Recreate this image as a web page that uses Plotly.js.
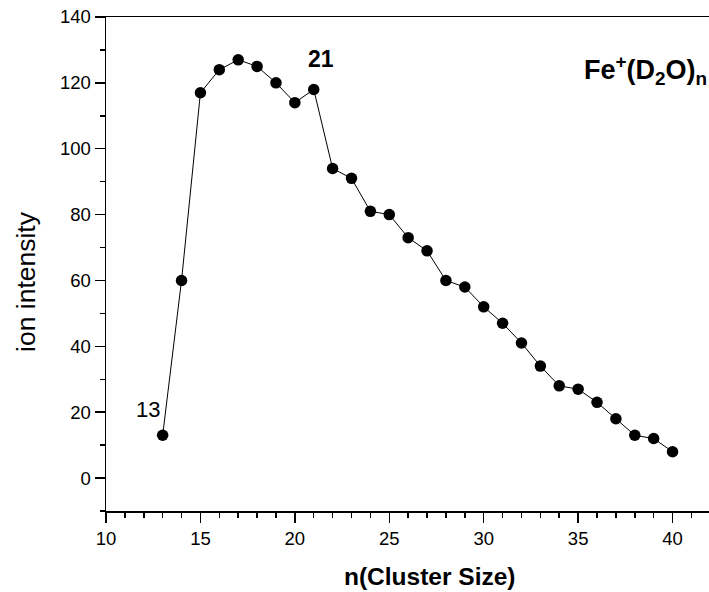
<!DOCTYPE html>
<html>
<head>
<meta charset="utf-8">
<script src="https://cdn.plot.ly/plotly-3.0.1.min.js"></script>
<style>html,body{margin:0;padding:0;background:#fff;}#chart{width:709px;height:592px;}</style>
</head>
<body>
<div id="chart"></div>
<script>
const clusterSize = [13,14,15,16,17,18,19,20,21,22,23,24,25,26,27,28,29,30,31,32,33,34,35,36,37,38,39,40];
const ionIntensity = [13,60,117,124,127,125,120,114,118,94,91,81,80,73,69,60,58,52,47,41,34,28,27,23,18,13,12,8];
const xTitle = "n(Cluster Size)";
const yTitle = "ion intensity";
const speciesLabel = "Fe<sup>+</sup>(D<sub>2</sub>O)<sub>n</sub>";
const peakLabel = "21";
const startLabel = "13";

const font = "Liberation Sans, Arial, sans-serif";

const trace = {
  x: clusterSize, y: ionIntensity, type: "scatter", mode: "lines+markers",
  line: {color: "#000", width: 1},
  marker: {color: "#000", size: 11.5, symbol: "circle"},
  showlegend: false, hoverinfo: "none", cliponaxis: false
};

const layout = {
  width: 709, height: 592,
  margin: {l: 106, r: 0, t: 17, b: 81, pad: 0},
  paper_bgcolor: "#fff", plot_bgcolor: "#fff",
  font: {family: font, color: "#000"},
  xaxis: {
    range: [10, 41.93], tickmode: "linear", tick0: 10, dtick: 5,
    ticks: "outside", ticklen: 10, tickwidth: 1.5, tickcolor: "#000",
    minor: {dtick: 1, ticks: "outside", ticklen: 5, tickwidth: 1.5, tickcolor: "#000", showgrid: false},
    showline: true, linewidth: 1.5, linecolor: "#000", mirror: true,
    showgrid: false, zeroline: false,
    tickfont: {family: font, size: 18.5, color: "#000"}
  },
  yaxis: {
    range: [-10, 140], tickmode: "linear", tick0: 0, dtick: 20,
    ticks: "outside", ticklen: 10, tickwidth: 1.5, tickcolor: "#000",
    minor: {dtick: 10, ticks: "outside", ticklen: 5, tickwidth: 1.5, tickcolor: "#000", showgrid: false},
    showline: true, linewidth: 1.5, linecolor: "#000", mirror: false,
    showgrid: false, zeroline: false,
    tickfont: {family: font, size: 18.5, color: "#000"}
  },
  annotations: [
    {text: peakLabel, x: 21.38, y: 127.3, xref: "x", yref: "y", showarrow: false,
     font: {family: font, size: 23, color: "#000", weight: "bold"}, xanchor: "center", yanchor: "middle"},
    {text: startLabel, x: 12.22, y: 20.7, xref: "x", yref: "y", showarrow: false,
     font: {family: font, size: 22, color: "#000"}, xanchor: "center", yanchor: "middle"},
    {text: speciesLabel, x: 35.19, y: 124.0, xref: "x", yref: "y", showarrow: false,
     font: {family: font, size: 27, color: "#000", weight: "bold"}, xanchor: "left", yanchor: "middle"},
    {text: yTitle, x: -0.1327, y: 0.4656, xref: "paper", yref: "paper", showarrow: false, textangle: -90,
     font: {family: font, size: 26.5, color: "#000"}, xanchor: "center", yanchor: "middle"},
    {text: "<b>" + xTitle + "</b>", x: 0.537, y: -0.1316, xref: "paper", yref: "paper", showarrow: false,
     font: {family: font, size: 24.5, color: "#000"}, xanchor: "center", yanchor: "middle"}
  ]
};

Plotly.newPlot("chart", [trace], layout, {displayModeBar: false, staticPlot: true});
</script>
</body>
</html>
